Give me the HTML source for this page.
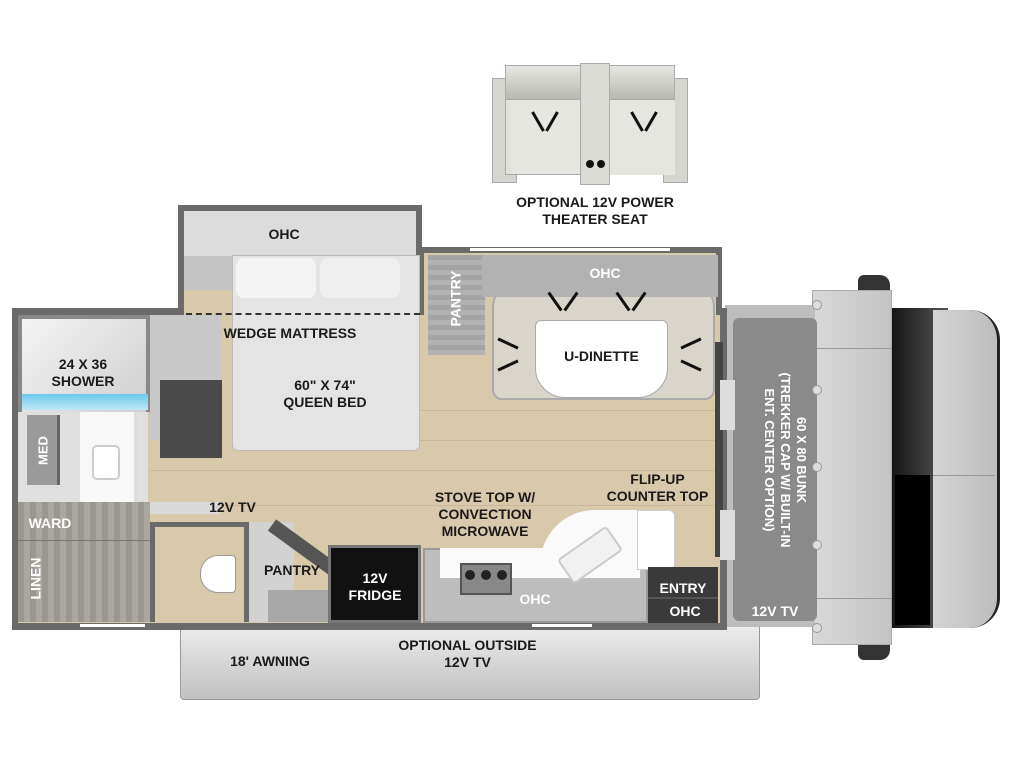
<!DOCTYPE html>
<html><head><meta charset="utf-8"><style>
body{margin:0;width:1024px;height:768px;background:#fff;position:relative;overflow:hidden;font-family:"Liberation Sans",sans-serif}
div{position:absolute;box-sizing:border-box}
.t{font-weight:bold;font-size:14px;color:#1a1a1a;text-align:center;line-height:17px;white-space:nowrap}
.w{color:#fff}
.ln{background:#111;height:3px;width:22px}
</style></head><body>
<!-- theater seat -->
<div style="left:492px;top:78px;width:25px;height:105px;background:#d6d6d0;border:1px solid #aaa"></div>
<div style="left:663px;top:78px;width:25px;height:105px;background:#d6d6d0;border:1px solid #aaa"></div>
<div style="left:505px;top:65px;width:170px;height:110px;background:#e2e2dc;border:1px solid #aaa"></div>
<div style="left:505px;top:65px;width:170px;height:35px;background:linear-gradient(#e8e8e2,#b8b8b2);border:1px solid #aaa"></div>
<div style="left:511px;top:100px;width:70px;height:75px;background:#e6e6e0;border-bottom:1px solid #aaa"></div>
<div style="left:609px;top:100px;width:66px;height:75px;background:#e6e6e0"></div>
<div style="left:580px;top:63px;width:30px;height:122px;background:#dcdcd6;border:1px solid #aaa"></div>
<div style="left:586px;top:160px;width:8px;height:8px;background:#111;border-radius:50%"></div>
<div style="left:597px;top:160px;width:8px;height:8px;background:#111;border-radius:50%"></div>
<div class="ln" style="left:527px;top:120px;transform:rotate(60deg)"></div>
<div class="ln" style="left:541px;top:120px;transform:rotate(-60deg)"></div>
<div class="ln" style="left:626px;top:120px;transform:rotate(60deg)"></div>
<div class="ln" style="left:640px;top:120px;transform:rotate(-60deg)"></div>
<div class="t" style="left:495px;top:194px;width:200px">OPTIONAL 12V POWER<br>THEATER SEAT</div>

<!-- awning -->
<div style="left:180px;top:626px;width:580px;height:74px;background:linear-gradient(#ececec,#c0c0c0);border:1px solid #999;border-radius:0 0 4px 4px"></div>
<!-- cab -->
<div style="left:858px;top:275px;width:32px;height:22px;background:#333;border-radius:6px 10px 4px 4px"></div>
<div style="left:858px;top:638px;width:32px;height:22px;background:#333;border-radius:4px 4px 10px 6px"></div>
<div style="left:888px;top:308px;width:60px;height:320px;background:linear-gradient(90deg,#111,#555)"></div>
<div style="left:895px;top:475px;width:45px;height:150px;background:#000"></div>
<div style="left:930px;top:310px;width:70px;height:318px;background:linear-gradient(90deg,#d4d4d4,#bdbdbd);border-radius:0 30px 30px 0;border-right:3px solid #222;border-left:3px solid #444"></div>
<div style="left:933px;top:475px;width:62px;height:1px;background:#999"></div>
<div style="left:812px;top:290px;width:80px;height:355px;background:linear-gradient(90deg,#d8d8d8,#c4c4c4);border:1px solid #aaa"></div>
<div style="left:812px;top:348px;width:80px;height:1px;background:#999"></div>
<div style="left:812px;top:598px;width:80px;height:1px;background:#999"></div>
<div style="left:725px;top:305px;width:90px;height:322px;background:#bdbdbd"></div>
<div style="left:733px;top:318px;width:84px;height:303px;background:#8a8a8a;border-radius:6px"></div>
<div style="left:812px;top:300px;width:10px;height:10px;background:#ddd;border:1px solid #999;border-radius:50%"></div>
<div style="left:812px;top:385px;width:10px;height:10px;background:#ddd;border:1px solid #999;border-radius:50%"></div>
<div style="left:812px;top:462px;width:10px;height:10px;background:#ddd;border:1px solid #999;border-radius:50%"></div>
<div style="left:812px;top:540px;width:10px;height:10px;background:#ddd;border:1px solid #999;border-radius:50%"></div>
<div style="left:812px;top:623px;width:10px;height:10px;background:#ddd;border:1px solid #999;border-radius:50%"></div>
<div class="t w" style="left:635px;top:436px;width:300px;transform:rotate(90deg);font-size:13px;line-height:16px">60 X 80 BUNK<br>(TREKKER CAP W/ BUILT-IN<br>ENT. CENTER OPTION)</div>

<!-- bedroom slide -->
<div style="left:178px;top:205px;width:244px;height:110px;background:#6a6a6a"></div>
<div style="left:184px;top:211px;width:232px;height:100px;background:#c4c4c4"></div>
<!-- dinette slide -->
<div style="left:418px;top:247px;width:304px;height:68px;background:#6a6a6a"></div>
<div style="left:470px;top:248px;width:200px;height:3px;background:#fff"></div>
<!-- main body -->
<div style="left:12px;top:308px;width:715px;height:322px;background:#6a6a6a"></div>
<div style="left:18px;top:315px;width:702px;height:308px;background:#d9c9ab"></div>
<div style="left:424px;top:253px;width:292px;height:70px;background:#d9c9ab"></div>
<div style="left:184px;top:290px;width:232px;height:30px;background:#d9c9ab"></div>
<div style="left:80px;top:624px;width:65px;height:3px;background:#fff"></div>
<div style="left:532px;top:624px;width:60px;height:3px;background:#fff"></div>
<!-- floor plank lines -->
<div style="left:150px;top:470px;width:565px;height:1px;background:#c9b796"></div>
<div style="left:150px;top:505px;width:565px;height:1px;background:#c9b796"></div>
<div style="left:420px;top:440px;width:300px;height:1px;background:#c9b796"></div>
<div style="left:420px;top:410px;width:300px;height:1px;background:#c9b796"></div>
<!-- OHC bedroom -->
<div style="left:184px;top:211px;width:232px;height:45px;background:#dcdcdc"></div>
<div class="t" style="left:184px;top:226px;width:200px">OHC</div>
<div style="left:150px;top:315px;width:72px;height:125px;background:#c8c8c8"></div>
<!-- bed -->
<div style="left:232px;top:255px;width:188px;height:196px;background:#e4e4e4;border:1px solid #bbb;border-radius:0 0 6px 6px"></div>
<div style="left:236px;top:258px;width:80px;height:40px;background:#f4f4f4;border-radius:8px"></div>
<div style="left:320px;top:258px;width:80px;height:40px;background:#f0f0f0;border-radius:8px"></div>
<div style="left:186px;top:313px;width:234px;border-top:2px dashed #333;height:0"></div>
<div class="t" style="left:205px;top:325px;width:170px">WEDGE MATTRESS</div>
<div class="t" style="left:250px;top:377px;width:150px">60" X 74"<br>QUEEN BED</div>
<!-- TV -->
<div style="left:160px;top:380px;width:62px;height:78px;background:#4a4a4a"></div>
<!-- shower -->
<div style="left:18px;top:315px;width:132px;height:97px;background:linear-gradient(135deg,#f4f4f4,#cfcfcf);border:4px solid #888;border-bottom:none"></div>
<div style="left:22px;top:394px;width:126px;height:16px;background:linear-gradient(#6cc8ea,#bfe8f6)"></div>
<div class="t" style="left:28px;top:356px;width:110px">24 X 36<br>SHOWER</div>
<!-- bath area -->
<div style="left:18px;top:412px;width:130px;height:92px;background:#e0e0e0"></div>
<div style="left:27px;top:415px;width:33px;height:70px;background:#9a9a9a;border-right:3px solid #666"></div>
<div class="t w" style="left:18px;top:442px;width:50px;transform:rotate(-90deg);font-size:13px">MED</div>
<div style="left:80px;top:412px;width:58px;height:95px;background:#f8f8f8;border-right:4px solid #ddd"></div>
<div style="left:92px;top:445px;width:28px;height:35px;background:#fff;border:2px solid #ccc;border-radius:5px"></div>
<div style="left:18px;top:502px;width:132px;height:120px;background:repeating-linear-gradient(90deg,#9a9690 0 6px,#aaa6a0 6px 12px)"></div>
<div style="left:18px;top:540px;width:132px;height:1px;background:#777"></div>
<div class="t w" style="left:20px;top:515px;width:60px">WARD</div>
<div class="t w" style="left:6px;top:570px;width:60px;transform:rotate(-90deg)">LINEN</div>
<div style="left:150px;top:502px;width:70px;height:12px;background:#d9d9d9"></div>
<div style="left:150px;top:522px;width:98px;height:5px;background:#6a6a6a"></div>
<div style="left:150px;top:522px;width:5px;height:100px;background:#6a6a6a"></div>
<div style="left:155px;top:527px;width:90px;height:95px;background:#d9c9ab"></div>
<div style="left:200px;top:555px;width:36px;height:38px;background:#fff;border:1px solid #999;border-radius:18px 4px 4px 18px"></div>
<div class="t" style="left:195px;top:499px;width:75px">12V TV</div>
<div style="left:244px;top:522px;width:5px;height:100px;background:#6a6a6a"></div>
<div style="left:249px;top:522px;width:45px;height:100px;background:#d2d2d2"></div>
<div style="left:268px;top:590px;width:62px;height:32px;background:#a8a8a8"></div>
<div style="left:272px;top:518px;width:92px;height:14px;background:#555;transform:rotate(36deg);transform-origin:left center"></div>
<div class="t" style="left:252px;top:562px;width:80px">PANTRY</div>
<!-- fridge -->
<div style="left:328px;top:545px;width:93px;height:78px;background:#111;border:3px solid #777"></div>
<div class="t w" style="left:331px;top:570px;width:88px">12V<br>FRIDGE</div>
<!-- kitchen -->
<div style="left:423px;top:548px;width:225px;height:75px;background:#bdbdbd;border:2px solid #999"></div>
<div style="left:440px;top:548px;width:200px;height:30px;background:#fafafa"></div>
<div style="left:540px;top:510px;width:100px;height:55px;background:#fafafa;border-radius:60px 0 0 0"></div>
<div style="left:560px;top:540px;width:60px;height:30px;border:2px solid #ccc;border-radius:4px;transform:rotate(-35deg);background:#f2f2f2"></div>
<div style="left:637px;top:510px;width:38px;height:60px;background:#fff;border:1px solid #ccc;border-radius:0 6px 6px 0"></div>
<div style="left:460px;top:563px;width:52px;height:32px;background:#888;border:2px solid #555"></div>
<div style="left:465px;top:570px;width:10px;height:10px;background:#222;border-radius:50%"></div>
<div style="left:481px;top:570px;width:10px;height:10px;background:#222;border-radius:50%"></div>
<div style="left:497px;top:570px;width:10px;height:10px;background:#222;border-radius:50%"></div>
<div class="t w" style="left:490px;top:591px;width:90px">OHC</div>
<div class="t" style="left:420px;top:489px;width:130px">STOVE TOP W/<br>CONVECTION<br>MICROWAVE</div>
<div class="t" style="left:590px;top:471px;width:135px">FLIP-UP<br>COUNTER TOP</div>
<div style="left:648px;top:567px;width:70px;height:56px;background:#3a3a3a"></div>
<div style="left:648px;top:597px;width:70px;height:2px;background:#555"></div>
<div class="t w" style="left:648px;top:580px;width:70px">ENTRY</div>
<div class="t w" style="left:650px;top:603px;width:70px">OHC</div>
<div class="t w" style="left:730px;top:603px;width:90px">12V TV</div>
<!-- pantry & dinette -->
<div style="left:428px;top:255px;width:57px;height:100px;background:repeating-linear-gradient(#a4a4a4 0 5px,#b2b2b2 5px 10px)"></div>
<div class="t w" style="left:406px;top:290px;width:100px;transform:rotate(-90deg)">PANTRY</div>
<div style="left:492px;top:278px;width:223px;height:122px;background:#d9d5cb;border:2px solid #aaa;border-radius:30px 30px 10px 10px"></div>
<div style="left:482px;top:255px;width:236px;height:42px;background:#b2b2b2"></div>
<div class="t w" style="left:560px;top:265px;width:90px">OHC</div>
<div style="left:535px;top:320px;width:133px;height:78px;background:#fff;border:1px solid #aaa;border-radius:6px 6px 30px 30px"></div>
<div class="t" style="left:535px;top:348px;width:133px">U-DINETTE</div>
<div class="ln" style="left:544px;top:300px;transform:rotate(55deg)"></div>
<div class="ln" style="left:560px;top:300px;transform:rotate(-55deg)"></div>
<div class="ln" style="left:612px;top:300px;transform:rotate(55deg)"></div>
<div class="ln" style="left:628px;top:300px;transform:rotate(-55deg)"></div>
<div class="ln" style="left:497px;top:342px;transform:rotate(25deg)"></div>
<div class="ln" style="left:497px;top:364px;transform:rotate(-25deg)"></div>
<div class="ln" style="left:680px;top:342px;transform:rotate(-25deg)"></div>
<div class="ln" style="left:680px;top:364px;transform:rotate(25deg)"></div>
<div style="left:715px;top:342px;width:8px;height:215px;background:#444"></div>
<div style="left:720px;top:380px;width:15px;height:50px;background:#ddd"></div>
<div style="left:720px;top:510px;width:15px;height:50px;background:#ddd"></div>
<!-- awning text -->
<div class="t" style="left:200px;top:653px;width:140px">18' AWNING</div>
<div class="t" style="left:380px;top:637px;width:175px">OPTIONAL OUTSIDE<br>12V TV</div>
</body></html>
